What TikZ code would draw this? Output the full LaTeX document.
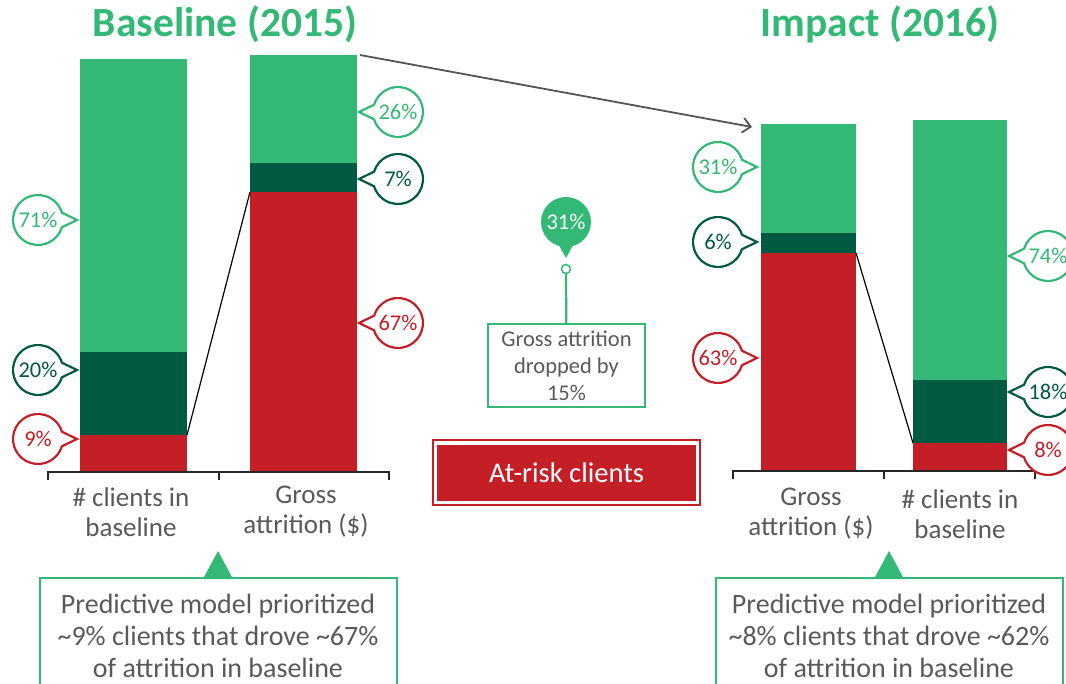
\documentclass[tikz,border=0pt]{standalone}
\usepackage{fontspec}
\setmainfont{Carlito}
\usetikzlibrary{arrows.meta}
\definecolor{lgreen}{HTML}{33B875}
\definecolor{dgreen}{HTML}{005A41}
\definecolor{riskred}{HTML}{C41F26}
\definecolor{txtgray}{HTML}{595959}
\definecolor{arrgray}{HTML}{555555}
\tikzset{
  callout/.style={line width=2.2pt,fill=white},
  pct/.style={inner sep=0pt,font=\fontsize{22.5}{22.5}\selectfont},
  axis/.style={line width=1.6pt,black!85},
  catlabel/.style={align=center,text=txtgray,font=\fontsize{27}{30}\selectfont},
  title/.style={text=lgreen,font=\fontsize{41.5}{41.5}\selectfont\bfseries},
  notebox/.style={align=center,text=txtgray,font=\fontsize{28}{32}\selectfont}
}
% callout bubble, circle left of the bar, tip to the right
\newcommand{\calloutL}[5]{%
  \draw[callout,draw=#3] (#1,#2) ++(17:25) arc[start angle=17,end angle=343,radius=25] -- (#1+39,#2) -- cycle;
  \node[pct,text=#3] (#5) at (#1,#2) {#4};}
% callout bubble, circle right of the bar, tip to the left
\newcommand{\calloutR}[5]{%
  \draw[callout,draw=#3] (#1,#2) ++(-163:25) arc[start angle=-163,end angle=163,radius=25] -- (#1-39,#2) -- cycle;
  \node[pct,text=#3] (#5) at (#1,#2) {#4};}
\begin{document}
\begin{tikzpicture}[x=1pt,y=-1pt,>={Straight Barb[length=8pt,width=15pt]}]
  \useasboundingbox (0,0) rectangle (1066,684);
  \clip (0,0) rectangle (1066,684);
  \node[title] (ttlbase) at (225,24) {Baseline (2015)};
  \node[title] (ttlimp) at (880,24) {Impact (2016)};
  % baseline bars
  \fill[lgreen] (80,59) rectangle (187,352);
  \fill[dgreen] (80,352) rectangle (187,435);
  \fill[riskred] (80,435) rectangle (187,472);
  \fill[lgreen] (250,55) rectangle (357,163);
  \fill[dgreen] (250,163) rectangle (357,192);
  \fill[riskred] (250,192) rectangle (357,472);
  \coordinate (b1r) at (187,435);
  \coordinate (b2r) at (250,192);
  \draw[line width=1.2pt] (b1r) -- (b2r);
  \draw[axis] (48,480) -- (48,472) -- (389,472) -- (389,480);
  \draw[axis] (219,472) -- (219,480);
  \node[catlabel] (cat1) at (131,512) {\# clients in\\baseline};
  \node[catlabel] (cat2) at (306,512) {Gross\\attrition (\$)};
  \calloutL{38}{220}{lgreen}{71\%}{c71}
  \calloutL{38}{370}{dgreen}{20\%}{c20}
  \calloutL{38}{439}{riskred}{9\%}{c9}
  \calloutR{398}{112}{lgreen}{26\%}{c26}
  \calloutR{398}{179}{dgreen}{7\%}{c7}
  \calloutR{398}{323}{riskred}{67\%}{c67}
  % impact bars
  \fill[lgreen] (761,124) rectangle (856,233);
  \fill[dgreen] (761,233) rectangle (856,253);
  \fill[riskred] (761,253) rectangle (856,471);
  \fill[lgreen] (913,120) rectangle (1007,380);
  \fill[dgreen] (913,380) rectangle (1007,443);
  \fill[riskred] (913,443) rectangle (1007,471);
  \coordinate (b3r) at (856,253);
  \coordinate (b4r) at (913,443);
  \draw[line width=1.2pt] (b3r) -- (b4r);
  \draw[axis] (733,479) -- (733,471) -- (1035,471) -- (1035,479);
  \draw[axis] (884,471) -- (884,479);
  \node[catlabel] (cat3) at (811,514) {Gross\\attrition (\$)};
  \node[catlabel] (cat4) at (960,514) {\# clients in\\baseline};
  \calloutL{718}{167}{lgreen}{31\%}{c31}
  \calloutL{718}{242}{dgreen}{6\%}{c6}
  \calloutL{718}{358}{riskred}{63\%}{c63}
  \calloutR{1048}{256}{lgreen}{74\%}{c74}
  \calloutR{1048}{392}{dgreen}{18\%}{c18}
  \calloutR{1048}{450}{riskred}{8\%}{c8}
  % arrow baseline -> impact
  \coordinate (arrS) at (360,55);
  \coordinate (arrE) at (752,127);
  \draw[->,arrgray,line width=1.8pt] (arrS) -- (arrE);
  % middle pin and note
  \fill[lgreen] (556,240) -- (566,258) -- (576,240) -- cycle;
  \fill[lgreen] (566,222) circle (25);
  \node[pct,text=white] (pin) at (566,222) {31\%};
  \node[draw=lgreen,line width=1.5pt,fill=white,circle,inner sep=0pt,minimum size=9pt] (pinend) at (566,269) {};
  \node[draw=lgreen,line width=1.5pt,align=center,text=txtgray,minimum width=157pt,minimum height=83pt,inner sep=2pt,font=\fontsize{22.5}{27}\selectfont] (drop) at (566.5,365.5) {Gross attrition\\dropped by\\15\%};
  \draw[lgreen,line width=2.2pt] (pinend) -- (drop);
  % legend
  \draw[riskred,line width=1.4pt] (433,440) rectangle (700,505);
  \node[fill=riskred,minimum width=259pt,minimum height=56pt,text=white,font=\fontsize{28.5}{28.5}\selectfont] (risk) at (566.5,473) {At-risk clients};
  % bottom notes
  \draw[lgreen,line width=2.2pt] (40,700) -- (40,578) -- (397,578) -- (397,700);
  \fill[lgreen] (203,579) -- (218,551) -- (233,579) -- cycle;
  \node[notebox] (note1) at (218,636) {Predictive model prioritized\\\textasciitilde9\% clients that drove \textasciitilde67\%\\of attrition in baseline};
  \draw[lgreen,line width=2.2pt] (716,700) -- (716,578) -- (1063,578) -- (1063,700);
  \fill[lgreen] (874,579) -- (889,551) -- (904,579) -- cycle;
  \node[notebox] (note2) at (889,636) {Predictive model prioritized\\\textasciitilde8\% clients that drove \textasciitilde62\%\\of attrition in baseline};
\end{tikzpicture}
\end{document}
